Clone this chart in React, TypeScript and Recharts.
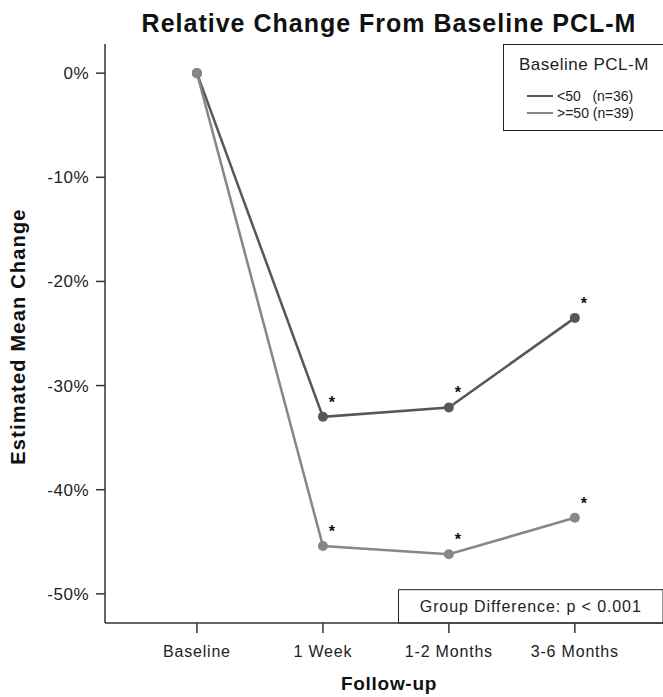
import React from "react";
import {
  LineChart,
  Line,
  XAxis,
  YAxis,
  LabelList,
  ReferenceArea,
} from "recharts";

const timepoints = ["Baseline", "1 Week", "1-2 Months", "3-6 Months"];
const lowGroup = [0, -33.0, -32.1, -23.5];
const highGroup = [0, -45.4, -46.2, -42.7];
const yTicks = [0, -10, -20, -30, -40, -50];

const seriesInfo = [
  { key: "low", name: "<50   (n=36)", color: "#575757" },
  { key: "high", name: ">=50 (n=39)", color: "#878787" },
];

const data = timepoints.map((t, i) => ({
  idx: i,
  label: t,
  low: lowGroup[i],
  high: highGroup[i],
}));

const FONT = "'Liberation Sans', Arial, Helvetica, sans-serif";

// significance marker, drawn above-right of every follow-up point
function Star(props: any) {
  const { x, y, index } = props;
  if (!index) return null;
  return (
    <text x={x + 9} y={y - 9} fontSize={16} fontWeight="bold" fontFamily={FONT} fill="#111" textAnchor="middle">
      *
    </text>
  );
}

function LegendBox() {
  return (
    <div
      style={{
        position: "absolute",
        left: 503,
        top: 44,
        width: 160,
        height: 87,
        border: "1px solid #222",
        borderRight: "none",
        background: "#fff",
        fontFamily: FONT,
        boxSizing: "border-box",
        paddingTop: 10,
        paddingLeft: 15,
      }}
    >
      <div style={{ fontSize: 17, color: "#222", marginBottom: 12, letterSpacing: 0.5 }}>Baseline PCL-M</div>
      {seriesInfo.map((s) => (
        <div key={s.key} style={{ display: "flex", alignItems: "center", height: 17, paddingLeft: 8 }}>
          <div style={{ width: 26, height: 2, background: s.color, marginRight: 4 }} />
          <span style={{ fontSize: 14, color: "#222", whiteSpace: "pre" }}>{s.name}</span>
        </div>
      ))}
    </div>
  );
}

export default function App() {
  return (
    <div style={{ position: "absolute", left: 0, top: 0, width: 663, height: 697, background: "#fff" }}>
      <LineChart
        width={663}
        height={697}
        data={data}
        margin={{ top: 44, right: 0, bottom: 0, left: 0 }}
      >
        <text
          x={389}
          y={32}
          textAnchor="middle"
          fontFamily={FONT}
          fontWeight="bold"
          fontSize={25}
          letterSpacing={1}
          fill="#111"
        >
          Relative Change From Baseline PCL-M
        </text>
        <XAxis
          xAxisId="top"
          orientation="top"
          dataKey="idx"
          type="number"
          domain={[-0.73, 3.7]}
          tick={false}
          tickLine={false}
          height={0}
          axisLine={{ stroke: "#333", strokeWidth: 1.5 }}
        />
        <XAxis
          dataKey="idx"
          type="number"
          domain={[-0.73, 3.7]}
          ticks={[0, 1, 2, 3]}
          tickFormatter={(v) => timepoints[v]}
          height={74}
          axisLine={{ stroke: "#333", strokeWidth: 1.5 }}
          tickLine={{ stroke: "#333", strokeWidth: 1.5 }}
          tickSize={10}
          tick={{ fill: "#222", fontSize: 16, fontFamily: FONT, letterSpacing: 0.8, dy: 11 }}
          label={(p: any) => {
            const vb = p.viewBox;
            return (
              <text
                x={389}
                y={vb.y + 67}
                textAnchor="middle"
                fontFamily={FONT}
                fontWeight="bold"
                fontSize={19}
                letterSpacing={0.7}
                fill="#111"
              >
                Follow-up
              </text>
            );
          }}
        />
        <YAxis
          type="number"
          domain={[-52.8, 2.8]}
          ticks={yTicks}
          tickFormatter={(v) => `${v}%`}
          width={105}
          axisLine={{ stroke: "#333", strokeWidth: 1.5 }}
          tickLine={{ stroke: "#333", strokeWidth: 1.5 }}
          tickSize={9}
          tick={{ fill: "#222", fontSize: 17, fontFamily: FONT, letterSpacing: 0.5, dx: -5 }}
          label={(p: any) => {
            const vb = p.viewBox;
            const cy = vb.y + vb.height / 2 + 3;
            return (
              <text
                x={25}
                y={cy}
                transform={`rotate(-90, 25, ${cy})`}
                textAnchor="middle"
                fontFamily={FONT}
                fontWeight="bold"
                fontSize={20}
                letterSpacing={1.2}
                fill="#111"
              >
                Estimated Mean Change
              </text>
            );
          }}
        />
        <ReferenceArea
          x1={1.6}
          x2={3.7}
          y1={-52.8}
          y2={-49.6}
          fill="#fff"
          fillOpacity={1}
          stroke="#222"
          strokeWidth={1}
          label={{
            value: "Group Difference: p < 0.001",
            fill: "#222",
            fontSize: 16,
            fontFamily: FONT,
            letterSpacing: 0.9,
          }}
        />
        <Line
          dataKey="low"
          name={seriesInfo[0].name}
          stroke={seriesInfo[0].color}
          strokeWidth={2.5}
          dot={{ r: 5, fill: seriesInfo[0].color, stroke: seriesInfo[0].color, strokeWidth: 0 }}
          isAnimationActive={false}
        >
          <LabelList dataKey="low" content={<Star />} />
        </Line>
        <Line
          dataKey="high"
          name={seriesInfo[1].name}
          stroke={seriesInfo[1].color}
          strokeWidth={2.5}
          dot={{ r: 5, fill: seriesInfo[1].color, stroke: seriesInfo[1].color, strokeWidth: 0 }}
          isAnimationActive={false}
        >
          <LabelList dataKey="high" content={<Star />} />
        </Line>
      </LineChart>
      <LegendBox />
    </div>
  );
}
